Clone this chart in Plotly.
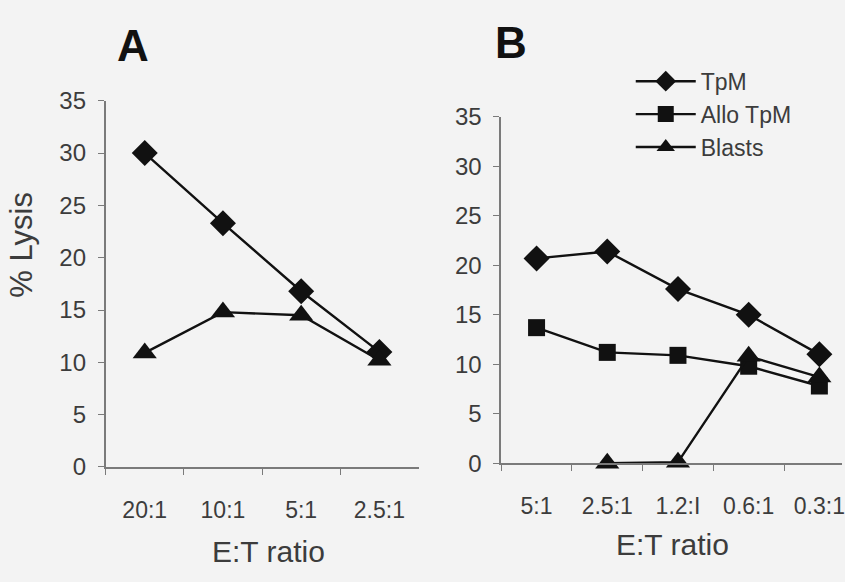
import plotly.graph_objects as go

# Panel A data
cats_a = ["20:1", "10:1", "5:1", "2.5:1"]
tpm_a = [30.0, 23.3, 16.8, 11.0]
blasts_a = [10.9, 14.8, 14.5, 10.2]

# Panel B data
cats_b = ["5:1", "2.5:1", "1.2:1", "0.6:1", "0.3:1"]
tick_text_b = ["5:1", "2.5:1", "1.2:I", "0.6:1", "0.3:1"]
tpm_b = [20.7, 21.4, 17.6, 15.0, 11.0]
allo_b = [13.7, 11.2, 10.9, 9.8, 7.8]
blasts_b = [None, 0.0, 0.1, 10.8, 8.7]

y_ticks = [0, 5, 10, 15, 20, 25, 30, 35]

W, H = 845, 582
INK = "#111111"
AXC = "#7a7a7a"
TXT = "#3c3c3c"
FONT = "Liberation Sans, Arial, sans-serif"

fig = go.Figure()

def add(x, y, sym, size, name, xa, ya, show):
    fig.add_trace(go.Scatter(
        x=x, y=y, mode="lines+markers", name=name, xaxis=xa, yaxis=ya,
        showlegend=show, connectgaps=False, cliponaxis=False,
        line=dict(color=INK, width=2.4),
        marker=dict(symbol=sym, size=size, color=INK, line=dict(width=0)),
    ))

add(cats_a, tpm_a, "diamond", 20, "TpM", "x", "y", False)
add(cats_a, blasts_a, "triangle-up", 21, "Blasts", "x", "y", False)
add(cats_b, tpm_b, "diamond", 20, "TpM", "x2", "y2", True)
add(cats_b, allo_b, "square", 17, "Allo TpM", "x2", "y2", True)
add(cats_b, blasts_b, "triangle-up", 21, "Blasts", "x2", "y2", True)

def yaxis(dom, anchor):
    return dict(domain=dom, range=[0, 35], tickvals=y_ticks, anchor=anchor,
                showgrid=False, zeroline=False, showline=True, linecolor=AXC,
                linewidth=1.5, ticks="outside", ticklen=6, tickcolor=AXC,
                tickfont=dict(family=FONT, size=24, color=TXT),
                ticklabelstandoff=7, fixedrange=True)

def xaxis(dom, anchor, cats, rng, text):
    return dict(domain=dom, type="category", categoryorder="array",
                categoryarray=cats, tickvals=cats, ticktext=text, range=rng,
                anchor=anchor, showgrid=False, zeroline=False, showline=True,
                linecolor=AXC, linewidth=1.5, ticks="outside", ticklen=6,
                tickcolor=AXC, tickson="boundaries",
                tickfont=dict(family=FONT, size=23, color=TXT),
                ticklabelstandoff=22, fixedrange=True)

fig.update_layout(
    width=W, height=H,
    margin=dict(l=0, r=0, t=0, b=0),
    paper_bgcolor="#f3f3f3", plot_bgcolor="rgba(0,0,0,0)",
    xaxis=xaxis([106 / W, 420 / W], "y", cats_a, [-0.5, 3.5], cats_a),
    yaxis=yaxis([(H - 475) / H, (H - 91) / H], "x"),
    xaxis2=xaxis([503 / W, 1.0], "y2", cats_b, [-0.5, 4.32], tick_text_b),
    yaxis2=yaxis([(H - 471) / H, (H - 108) / H], "x2"),
    legend=dict(x=633 / W, y=1 - 48 / H, xanchor="left", yanchor="top",
                bgcolor="rgba(0,0,0,0)", font=dict(family=FONT, size=23, color=TXT),
                tracegroupgap=0, itemwidth=60),
    showlegend=True,
)

annotations = [
    dict(text="<b>A</b>", x=133 / W, y=1 - 33 / H, font=dict(size=44, color=INK)),
    dict(text="<b>B</b>", x=513 / W, y=1 - 30 / H, font=dict(size=44, color=INK)),
    dict(text="% Lysis", x=22 / W, y=1 - 242 / H, textangle=-90, font=dict(size=31, color=TXT)),
    dict(text="E:T ratio", x=269 / W, y=1 - 564 / H, font=dict(size=30, color=TXT)),
    dict(text="E:T ratio", x=675 / W, y=1 - 556 / H, font=dict(size=30, color=TXT)),
]
for a in annotations:
    a.update(xref="paper", yref="paper", showarrow=False, xanchor="center", yanchor="middle")
    a["font"]["family"] = FONT
fig.update_layout(annotations=annotations)

fig.write_html("out.html")
